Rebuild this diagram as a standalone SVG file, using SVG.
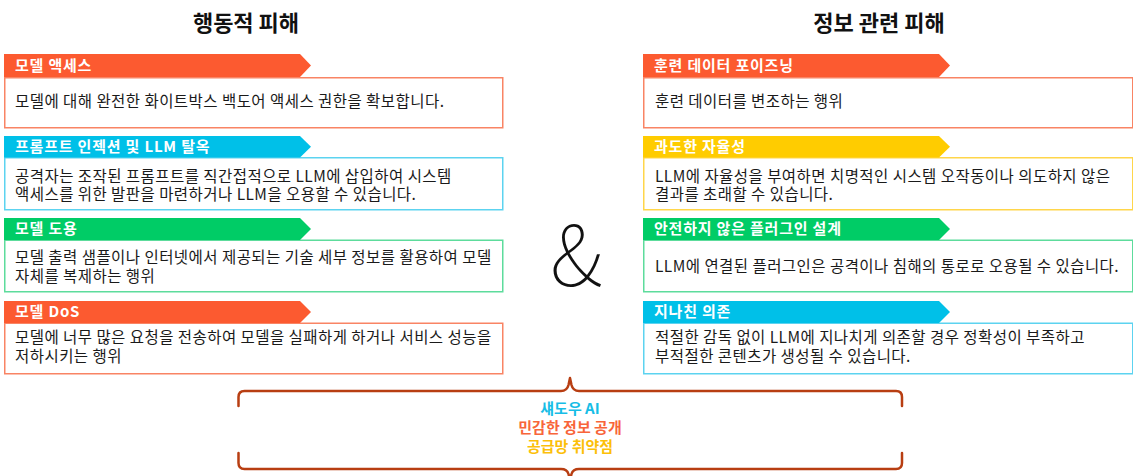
<svg xmlns="http://www.w3.org/2000/svg" width="1133" height="476" viewBox="0 0 1133 476">
<style>
text{font-family:"Noto Sans CJK KR","Noto Sans",sans-serif}
.title{font-size:22px;font-weight:700;fill:#111;text-anchor:middle}
.tab{font-size:15px;font-weight:700;fill:#fff;letter-spacing:0.8px}
.body{font-size:15.5px;fill:#1a1a1a;letter-spacing:0.45px}
.box{fill:#fff;stroke-width:1.5}
.or{fill:#fc5a30}.cy{fill:#00c0e8}.gr{fill:#00cc66}.ye{fill:#ffcc00}
.bor{stroke:#f98464}.bcy{stroke:#5cd3f0}.bgr{stroke:#5ddc9c}.bye{stroke:#ffd64a}
.brace{fill:none;stroke:#b83e12;stroke-width:2.5;stroke-linecap:round;stroke-linejoin:round}
.mid{font-size:15px;font-weight:700;text-anchor:middle}
</style>
<rect width="1133" height="476" fill="#fff"/>
<text class="title" x="246" y="31">행동적 피해</text>
<text class="title" x="879" y="31">정보 관련 피해</text>

<g id="model-access">
<rect class="box bor" x="4.75" y="77.75" width="498" height="50"/>
<polygon class="or" points="4,54 300,54 311,65.5 300,77 4,77"/>
<text class="tab" x="15" y="71">모델 액세스</text>
<text class="body" x="15" y="107">모델에 대해 완전한 화이트박스 백도어 액세스 권한을 확보합니다.</text>
</g>
<g id="prompt-injection">
<rect class="box bcy" x="4.75" y="157.75" width="498" height="52"/>
<polygon class="cy" points="4,136 300,136 311,146.75 300,157.5 4,157.5"/>
<text class="tab" x="15" y="152">프롬프트 인젝션 및 LLM 탈옥</text>
<text class="body" x="15" y="182">공격자는 조작된 프롬프트를 직간접적으로 LLM에 삽입하여 시스템</text>
<text class="body" x="15" y="200">액세스를 위한 발판을 마련하거나 LLM을 오용할 수 있습니다.</text>
</g>
<g id="model-theft">
<rect class="box bgr" x="4.75" y="240.25" width="498" height="51.5"/>
<polygon class="gr" points="4,218 300,218 311,229 300,240 4,240"/>
<text class="tab" x="15" y="234">모델 도용</text>
<text class="body" x="15" y="263">모델 출력 샘플이나 인터넷에서 제공되는 기술 세부 정보를 활용하여 모델</text>
<text class="body" x="15" y="282">자체를 복제하는 행위</text>
</g>
<g id="model-dos">
<rect class="box bor" x="4.75" y="323.25" width="498" height="50.5"/>
<polygon class="or" points="4,301 300,301 311,312 300,323 4,323"/>
<text class="tab" x="15" y="317">모델 DoS</text>
<text class="body" x="15" y="343">모델에 너무 많은 요청을 전송하여 모델을 실패하게 하거나 서비스 성능을</text>
<text class="body" x="15" y="362">저하시키는 행위</text>
</g>

<g id="data-poisoning">
<rect class="box bor" x="643.75" y="77.75" width="489" height="50"/>
<polygon class="or" points="643,54 939,54 950,65.5 939,77 643,77"/>
<text class="tab" x="654" y="71">훈련 데이터 포이즈닝</text>
<text class="body" x="655" y="107">훈련 데이터를 변조하는 행위</text>
</g>
<g id="excessive-agency">
<rect class="box bye" x="643.75" y="157.75" width="489" height="52"/>
<polygon class="ye" points="643,136 939,136 950,146.75 939,157.5 643,157.5"/>
<text class="tab" x="654" y="152">과도한 자율성</text>
<text class="body" x="655" y="182">LLM에 자율성을 부여하면 치명적인 시스템 오작동이나 의도하지 않은</text>
<text class="body" x="655" y="200">결과를 초래할 수 있습니다.</text>
</g>
<g id="insecure-plugin">
<rect class="box bgr" x="643.75" y="240.25" width="489" height="51.5"/>
<polygon class="gr" points="643,218 939,218 950,229 939,240 643,240"/>
<text class="tab" x="654" y="234">안전하지 않은 플러그인 설계</text>
<text class="body" x="655" y="272">LLM에 연결된 플러그인은 공격이나 침해의 통로로 오용될 수 있습니다.</text>
</g>
<g id="overreliance">
<rect class="box bcy" x="643.75" y="323.25" width="489" height="50.5"/>
<polygon class="cy" points="643,301 939,301 950,312 939,323 643,323"/>
<text class="tab" x="654" y="317">지나친 의존</text>
<text class="body" x="655" y="343">적절한 감독 없이 LLM에 지나치게 의존할 경우 정확성이 부족하고</text>
<text class="body" x="655" y="362">부적절한 콘텐츠가 생성될 수 있습니다.</text>
</g>

<text x="576" y="286" font-family="Inter,'DejaVu Sans',sans-serif" font-size="84" font-weight="100" fill="#111" text-anchor="middle">&amp;</text>

<g id="connectors">
<path class="brace" d="M238.5,406 V397 Q238.5,391 244.5,391 H561 Q567,391 568.5,385 L570,378 L571.5,385 Q573,391 579,391 H896 Q902,391 902,397 V406"/>
<path class="brace" d="M238.5,453 V463 Q238.5,469 244.5,469 H561 Q567,469 568.5,474 L570,480 L571.5,474 Q573,469 579,469 H896 Q902,469 902,463 V453"/>
</g>
<g id="shared">
<text class="mid" x="570" y="414" fill="#17bde6">섀도우 AI</text>
<text class="mid" x="570" y="433" fill="#f8653a">민감한 정보 공개</text>
<text class="mid" x="570" y="452" fill="#fcbf0a">공급망 취약점</text>
</g>
</svg>
